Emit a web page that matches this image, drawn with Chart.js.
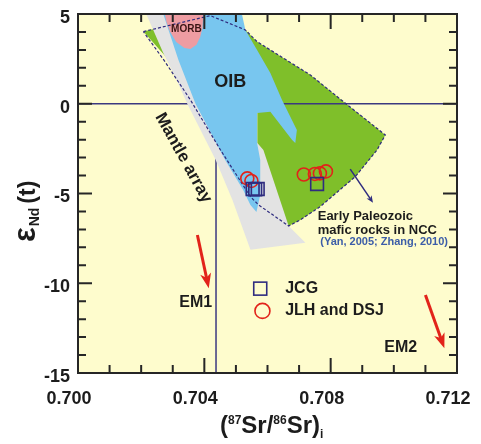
<!DOCTYPE html>
<html>
<head>
<meta charset="utf-8">
<script src="https://cdn.jsdelivr.net/npm/chart.js@4.4.1/dist/chart.umd.min.js"></script>
<style>
  html, body { margin: 0; padding: 0; background: #fff; }
  canvas { display: block; }
</style>
</head>
<body>
<canvas id="srnd" width="481" height="444"></canvas>
<script>
// axis ticks
const xTickValues = [0.700, 0.704, 0.708, 0.712];
const xTickLabels = ['0.700', '0.704', '0.708', '0.712'];
const yTickValues = [-15, -10, -5, 0, 5];
const yTickLabels = ['-15', '-10', '-5', '0', '5'];

// reference fields, [87Sr/86Sr, eNd] vertices
const mantleArray = [[0.70216, 5], [0.70270, 2.83], [0.70308, 1.49], [0.70346, 0], [0.70436, -3.13],
  [0.70489, -5.36], [0.70546, -8.14], [0.70720, -7.75], [0.70667, -6.81], [0.70587, -2.57],
  [0.70568, -2.18], [0.70568, -0.51], [0.70514, 2.44], [0.70387, 5]];
const oib = [[0.70270, 5], [0.70519, 5], [0.70530, 4.11], [0.70567, 3.00], [0.70609, 1.72],
  [0.70646, 0.21], [0.70693, -1.46], [0.70688, -2.18], [0.70678, -2.02], [0.70609, -0.44],
  [0.70567, -0.51], [0.70567, -2.18], [0.70577, -3.13], [0.70577, -5.08], [0.70565, -6.03],
  [0.70546, -5.64], [0.70523, -4.80], [0.70466, -3.13], [0.70372, 0], [0.70318, 2.44]];
const morb = [[0.70275, 5], [0.70280, 4.56], [0.70292, 4.00], [0.70311, 3.44], [0.70337, 3.11],
  [0.70356, 3.05], [0.70375, 3.28], [0.70387, 3.72], [0.70394, 4.22], [0.70397, 5]];
const nccField = [[0.70207, 4.02], [0.70419, 4.91], [0.70530, 4.11], [0.70567, 3.46], [0.70736, 1.60],
  [0.70840, 0.12], [0.70973, -1.74], [0.70947, -2.57], [0.70878, -4.06], [0.70767, -5.73],
  [0.70704, -6.47], [0.70667, -6.81], [0.70609, -6.20], [0.70514, -4.25], [0.70435, -2.02],
  [0.70356, 0.49], [0.70276, 2.66]];
const nccOutline = [[0.70207, 4.02], [0.70419, 4.91], [0.70530, 4.11], [0.70567, 3.46], [0.70736, 1.60],
  [0.70840, 0.12], [0.70973, -1.74], [0.70947, -2.57], [0.70878, -4.06], [0.70767, -5.73],
  [0.70704, -6.47], [0.70667, -6.81], [0.70572, -5.64], [0.70546, -5.18], [0.70451, -2.57],
  [0.70356, 0.21], [0.70276, 2.33]];

// reference lines
const churLine = [[0.700, 0], [0.712, 0]];
const bulkSrLine = [[0.70437, -15], [0.70437, 0]];

// samples
const jcg = [[0.70553, -4.75], [0.70561, -4.77], [0.70569, -4.75], [0.70757, -4.47]];
const jlhDsj = [[0.70536, -4.16], [0.70549, -4.30], [0.70715, -3.94], [0.70750, -3.91],
  [0.70766, -3.88], [0.70785, -3.77]];

// trend arrows (from, to)
const em1Arrow = [[0.70378, -7.31], [0.70414, -10.28]];
const em2Arrow = [[0.71100, -10.65], [0.71160, -13.62]];
const nccArrow = [[0.70862, -3.64], [0.70934, -5.51]];

const FONT = '"Liberation Sans", Arial, sans-serif';
const INK = '#1c1c1c';
const NAVY = '#2f2c7f';
const RED = '#e2231a';

const pts = arr => arr.map(([x, y]) => ({ x, y }));
const closed = arr => pts(arr.concat([arr[0]]));

function area(data, color, order) {
  return {
    data: closed(data), showLine: true, fill: 'shape', backgroundColor: color,
    borderColor: 'transparent', borderWidth: 0, pointRadius: 0, tension: 0, order
  };
}

function arrow(ctx, x1, y1, x2, y2, color, width, len, half) {
  const a = Math.atan2(y2 - y1, x2 - x1);
  ctx.save();
  ctx.strokeStyle = color;
  ctx.fillStyle = color;
  ctx.lineWidth = width;
  ctx.beginPath();
  ctx.moveTo(x1, y1);
  ctx.lineTo(x2 - Math.cos(a) * len * 0.7, y2 - Math.sin(a) * len * 0.7);
  ctx.stroke();
  ctx.translate(x2, y2);
  ctx.rotate(a);
  ctx.beginPath();
  ctx.moveTo(0, 0);
  ctx.lineTo(-len, -half);
  ctx.lineTo(-len * 0.72, 0);
  ctx.lineTo(-len, half);
  ctx.closePath();
  ctx.fill();
  ctx.restore();
}

const decor = {
  id: 'decor',
  beforeDatasetsDraw(chart) {
    const { ctx, chartArea: c } = chart;
    ctx.save();
    ctx.fillStyle = '#fefccd';
    ctx.fillRect(c.left, c.top, c.right - c.left, c.bottom - c.top);
    ctx.restore();
  },
  afterDatasetsDraw(chart) {
    const { ctx, scales: { x, y } } = chart;
    const px = v => x.getPixelForValue(v);
    const py = v => y.getPixelForValue(v);
    const text = (s, vx, vy, font, color, align) => {
      ctx.font = font;
      ctx.fillStyle = color;
      ctx.textAlign = align || 'center';
      ctx.textBaseline = 'middle';
      ctx.fillText(s, px(vx), py(vy));
    };

    arrow(ctx, px(em1Arrow[0][0]), py(em1Arrow[0][1]), px(em1Arrow[1][0]), py(em1Arrow[1][1]), RED, 3, 15, 5.5);
    arrow(ctx, px(em2Arrow[0][0]), py(em2Arrow[0][1]), px(em2Arrow[1][0]), py(em2Arrow[1][1]), RED, 3, 15, 5.5);
    arrow(ctx, px(nccArrow[0][0]), py(nccArrow[0][1]), px(nccArrow[1][0]), py(nccArrow[1][1]), NAVY, 1.5, 7, 3);

    text('MORB', 0.70343, 4.15, `bold 10px ${FONT}`, '#3a1414');
    text('OIB', 0.70482, 1.23, `bold 18px ${FONT}`, INK);
    text('EM1', 0.70373, -11.10, `bold 16px ${FONT}`, INK);
    text('EM2', 0.71022, -13.60, `bold 16px ${FONT}`, INK);
    text('Early Paleozoic', 0.70759, -6.29, `bold 13px ${FONT}`, INK, 'left');
    text('mafic rocks in NCC', 0.70759, -7.03, `bold 13px ${FONT}`, INK, 'left');
    text('(Yan, 2005; Zhang, 2010)', 0.70767, -7.68, `bold 11px ${FONT}`, '#3c5da8', 'left');

    ctx.save();
    ctx.translate(px(0.70334), py(-3.02));
    ctx.rotate(61 * Math.PI / 180);
    ctx.font = `bold 17px ${FONT}`;
    ctx.fillStyle = INK;
    ctx.textAlign = 'center';
    ctx.textBaseline = 'middle';
    ctx.fillText('Mantle array', 0, 0);
    ctx.restore();

    // legend
    ctx.save();
    ctx.lineWidth = 1.6;
    ctx.strokeStyle = NAVY;
    ctx.strokeRect(px(0.70577) - 6.5, py(-10.30) - 6.5, 13, 13);
    ctx.strokeStyle = RED;
    ctx.beginPath();
    ctx.arc(px(0.70584), py(-11.54), 7.5, 0, Math.PI * 2);
    ctx.stroke();
    ctx.restore();
    text('JCG', 0.70656, -10.28, `bold 16px ${FONT}`, INK, 'left');
    text('JLH and DSJ', 0.70656, -11.53, `bold 16px ${FONT}`, INK, 'left');
  },
  afterDraw(chart) {
    const { ctx, chartArea: c, scales: { x, y } } = chart;
    ctx.save();
    ctx.strokeStyle = '#262626';
    ctx.lineWidth = 2;
    ctx.strokeRect(c.left, c.top, c.right - c.left, c.bottom - c.top);

    // inward tick marks on all four sides
    ctx.beginPath();
    for (let i = 0; i <= 12; i++) {
      const v = 0.700 + i * 0.001;
      const p = x.getPixelForValue(v);
      const len = i % 4 === 0 ? 15 : 8;
      ctx.moveTo(p, c.bottom); ctx.lineTo(p, c.bottom - len);
      ctx.moveTo(p, c.top); ctx.lineTo(p, c.top + len);
    }
    for (let v = -15; v <= 5; v++) {
      const p = y.getPixelForValue(v);
      const len = v % 5 === 0 ? 14 : 8;
      ctx.moveTo(c.left, p); ctx.lineTo(c.left + len, p);
      ctx.moveTo(c.right, p); ctx.lineTo(c.right - len, p);
    }
    ctx.stroke();

    // axis titles with sub- and superscripts
    ctx.fillStyle = INK;
    ctx.textAlign = 'left';
    ctx.textBaseline = 'alphabetic';
    const runs = (parts, x0, y0) => {
      let cx = x0;
      for (const [s, size, dy, gap] of parts) {
        ctx.font = `bold ${size}px ${FONT}`;
        ctx.fillText(s, cx, y0 + dy);
        cx += ctx.measureText(s).width + (gap || 0);
      }
    };
    runs([['(', 24, 0], ['87', 12, -9], ['Sr/', 24, 0], ['86', 12, -9], ['Sr)', 24, 0], ['i', 12, 5]], 220, 433);

    ctx.translate(35, 242);
    ctx.rotate(-Math.PI / 2);
    runs([['\u03b5', 31, 0, 1], ['Nd', 14, 4, 4], ['(t)', 23, 0]], 0, 0);
    ctx.restore();
  }
};

// keep label overhang from shrinking the plot area
function noOverhang(s) {
  s.paddingTop = 0;
  s.paddingBottom = 0;
  s.paddingLeft = 0;
  s.paddingRight = 0;
}

new Chart(document.getElementById('srnd'), {
  type: 'scatter',
  data: {
    datasets: [
      { label: 'JCG', data: pts(jcg), pointStyle: 'rect', pointRadius: 9, borderColor: NAVY,
        backgroundColor: 'transparent', borderWidth: 1.6, order: 0 },
      { label: 'JLH and DSJ', data: pts(jlhDsj), pointStyle: 'circle', pointRadius: 6.5, borderColor: RED,
        backgroundColor: 'transparent', borderWidth: 1.6, order: 0 },
      { label: 'NCC outline', data: closed(nccOutline), showLine: true, fill: false, borderColor: NAVY,
        borderWidth: 1.2, borderDash: [3, 2], pointRadius: 0, tension: 0, order: 1 },
      area(morb, '#ee9ca2', 2),
      area(oib, '#78c6ef', 3),
      area(mantleArray, '#e3e3e3', 4),
      { label: 'CHUR', data: pts(churLine), showLine: true, borderColor: '#3b3880', borderWidth: 1.5,
        pointRadius: 0, order: 5 },
      { label: 'Bulk Earth', data: pts(bulkSrLine), showLine: true, borderColor: '#3b3880', borderWidth: 1.5,
        pointRadius: 0, order: 5 },
      area(nccField, '#7fbf2a', 6)
    ]
  },
  options: {
    responsive: false,
    animation: false,
    events: [],
    layout: { padding: { top: 14, right: 24, left: 0, bottom: 0 } },
    plugins: { legend: { display: false }, tooltip: { enabled: false } },
    scales: {
      x: {
        type: 'linear', min: 0.700, max: 0.712,
        grid: { display: false, drawTicks: false },
        border: { display: false },
        afterBuildTicks: s => { s.ticks = xTickValues.map(v => ({ value: v })); },
        afterFit: s => { s.height = 71; noOverhang(s); },
        ticks: {
          callback: (v, i) => xTickLabels[i],
          font: { family: FONT, size: 18, weight: 'bold' }, color: INK,
          padding: 15, labelOffset: -9, maxRotation: 0, autoSkip: false
        }
      },
      y: {
        type: 'linear', min: -15, max: 5,
        grid: { display: false, drawTicks: false },
        border: { display: false },
        afterBuildTicks: s => { s.ticks = yTickValues.map(v => ({ value: v })); },
        afterFit: s => { s.width = 78; noOverhang(s); },
        ticks: {
          callback: (v, i) => yTickLabels[i],
          font: { family: FONT, size: 18, weight: 'bold' }, color: INK,
          padding: 8, labelOffset: 4, autoSkip: false
        }
      }
    }
  },
  plugins: [decor]
});
</script>
</body>
</html>
